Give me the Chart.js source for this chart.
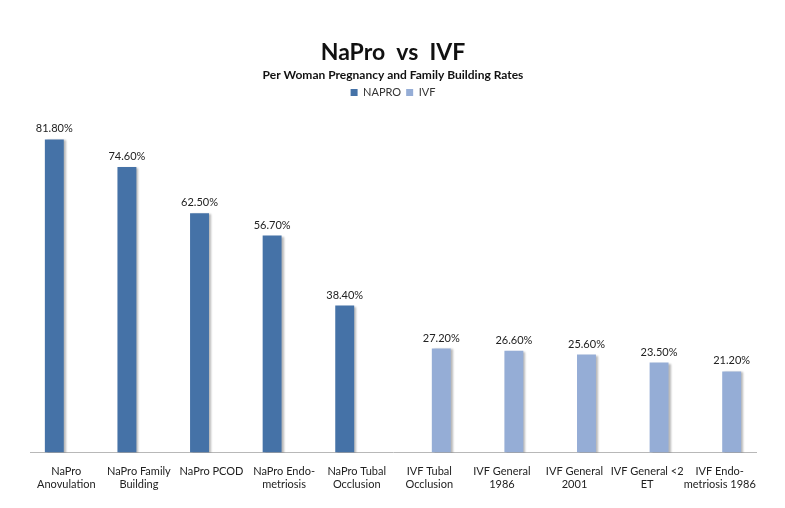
<!DOCTYPE html>
<html>
<head>
<meta charset="utf-8">
<script src="https://cdn.jsdelivr.net/npm/chart.js@4.4.1/dist/chart.umd.min.js"></script>
<style>
html,body{margin:0;padding:0;background:#fff;}
#wrap{width:785px;height:508px;}
</style>
</head>
<body>
<div id="wrap"><canvas id="c" width="785" height="508"></canvas></div>
<script>
const categories = [
  ["NaPro","Anovulation"],
  ["NaPro Family","Building"],
  ["NaPro PCOD"],
  ["NaPro Endo-","metriosis"],
  ["NaPro Tubal","Occlusion"],
  ["IVF Tubal","Occlusion"],
  ["IVF General","1986"],
  ["IVF General","2001"],
  ["IVF General <2","ET"],
  ["IVF Endo-","metriosis 1986"]
];
const napro = [81.8, 74.6, 62.5, 56.7, 38.4, null, null, null, null, null];
const ivf   = [null, null, null, null, null, 27.2, 26.6, 25.6, 23.5, 21.2];

const FONT = "Lato, 'Open Sans', sans-serif";

const shadowPlugin = {
  id: 'barShadow',
  beforeDatasetsDraw(chart) {
    const ctx = chart.ctx;
    ctx.save();
    ctx.shadowColor = 'rgba(0,0,0,0.28)';
    ctx.shadowOffsetX = 2;
    ctx.shadowOffsetY = 1;
    ctx.shadowBlur = 2;
  },
  afterDatasetsDraw(chart) {
    chart.ctx.restore();
  }
};

const labelPlugin = {
  id: 'valueLabels',
  afterDatasetsDraw(chart) {
    const ctx = chart.ctx;
    ctx.save();
    ctx.font = "11px " + FONT;
    ctx.fillStyle = '#222';
    ctx.textAlign = 'center';
    ctx.textBaseline = 'bottom';
    chart.data.datasets.forEach((ds, di) => {
      const meta = chart.getDatasetMeta(di);
      meta.data.forEach((el, i) => {
        const v = ds.data[i];
        if (v === null || v === undefined) return;
        ctx.fillText(v.toFixed(2) + '%', el.x, el.y - 5);
      });
    });
    ctx.restore();
  }
};

new Chart(document.getElementById('c'), {
  type: 'bar',
  data: {
    labels: categories,
    datasets: [
      { label: 'NAPRO', data: napro, backgroundColor: '#4572A7', barPercentage: 0.79, categoryPercentage: 0.66 },
      { label: 'IVF', data: ivf, backgroundColor: '#95ADD6', barPercentage: 0.79, categoryPercentage: 0.66 }
    ]
  },
  options: {
    responsive: false,
    animation: false,
    layout: { padding: { left: 30, right: 29, top: 0, bottom: 13 } },
    plugins: {
      title: {
        display: true,
        text: 'NaPro  vs  IVF',
        color: '#111',
        font: { family: FONT, size: 23, weight: 'bold' },
        padding: { top: 39, bottom: 1 }
      },
      subtitle: {
        display: true,
        text: 'Per Woman Pregnancy and Family Building Rates',
        color: '#111',
        font: { family: FONT, size: 12, weight: 'bold' },
        padding: { top: 0, bottom: 0 }
      },
      legend: {
        display: true,
        labels: {
          boxWidth: 7, boxHeight: 7, padding: 5,
          color: '#333',
          font: { family: FONT, size: 11 }
        }
      },
      tooltip: { enabled: false }
    },
    scales: {
      x: {
        grid: { display: false },
        border: { display: true, color: '#b8b8b8', width: 1 },
        ticks: { color: '#222', font: { family: FONT, size: 11 }, maxRotation: 0, autoSkip: false, padding: 4 }
      },
      y: {
        display: false,
        min: 0,
        max: 90
      }
    }
  },
  plugins: [shadowPlugin, labelPlugin]
});
</script>
</body>
</html>
